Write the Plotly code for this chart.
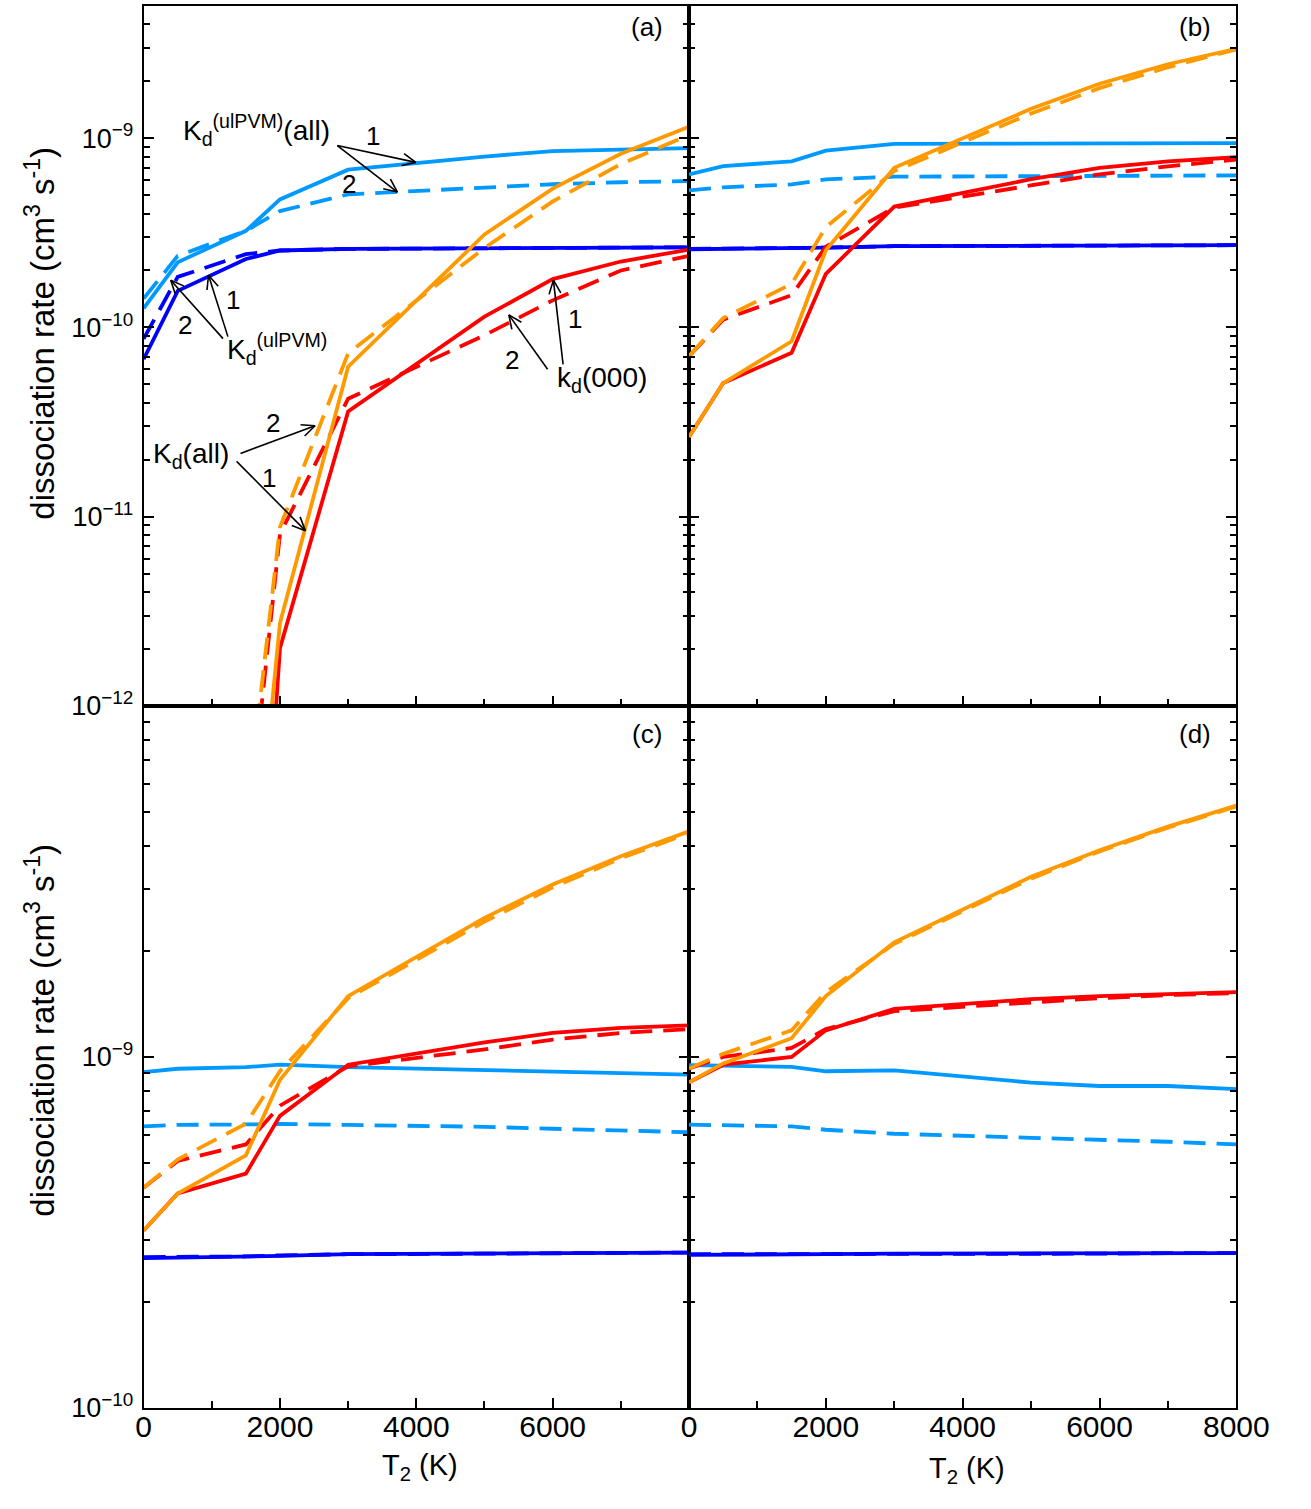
import math
import plotly.graph_objects as go

W, H = 1311, 1509

# ---------------- data ----------------
T = [0, 500, 1500, 2000, 3000, 5000, 6000, 7000, 8000]

# panel (a)
lb_solid_a = [1.26e-10, 2.21e-10, 3.24e-10, 4.75e-10, 6.82e-10, 8.0e-10, 8.55e-10, 8.7e-10, 8.87e-10]
lb_dash_a = [1.42e-10, 2.39e-10, 3.24e-10, 4.12e-10, 5.05e-10, 5.48e-10, 5.71e-10, 5.85e-10, 5.94e-10]
bl_solid_a = [6.8e-11, 1.56e-10, 2.3e-10, 2.55e-10, 2.6e-10, 2.62e-10, 2.63e-10, 2.64e-10, 2.65e-10]
bl_dash_a = [8.7e-11, 1.85e-10, 2.44e-10, 2.55e-10, 2.6e-10, 2.62e-10, 2.63e-10, 2.64e-10, 2.65e-10]
rd_solid_a = [None, None, 4e-15, 2.02e-12, 3.6e-11, 1.14e-10, 1.8e-10, 2.23e-10, 2.58e-10]
rd_dash_a = [None, None, 1.7e-13, 8.1e-12, 4.2e-11, 9.1e-11, 1.39e-10, 2.0e-10, 2.39e-10]
or_solid_a = [None, None, 4e-14, 2.74e-12, 6.2e-11, 3.1e-10, 5.42e-10, 8.27e-10, 1.15e-9]
or_dash_a = [None, None, 2.4e-13, 8.8e-12, 7.3e-11, 2.63e-10, 4.63e-10, 7.3e-10, 1.04e-9]

# panel (b)
lb_solid_b = [6.44e-10, 7.12e-10, 7.55e-10, 8.59e-10, 9.34e-10, 9.4e-10, 9.42e-10, 9.42e-10, 9.42e-10]
lb_dash_b = [5.3e-10, 5.5e-10, 5.7e-10, 6.06e-10, 6.26e-10, 6.32e-10, 6.34e-10, 6.35e-10, 6.36e-10]
bl_solid_b = [2.59e-10, 2.6e-10, 2.62e-10, 2.64e-10, 2.69e-10, 2.7e-10, 2.71e-10, 2.72e-10, 2.72e-10]
bl_dash_b = [2.6e-10, 2.61e-10, 2.62e-10, 2.64e-10, 2.69e-10, 2.7e-10, 2.71e-10, 2.72e-10, 2.72e-10]
rd_solid_b = [2.64e-11, 5.08e-11, 7.35e-11, 1.92e-10, 4.35e-10, 6.07e-10, 6.97e-10, 7.55e-10, 7.93e-10]
rd_dash_b = [7.05e-11, 1.1e-10, 1.48e-10, 2.67e-10, 4.3e-10, 5.6e-10, 6.44e-10, 7.1e-10, 7.7e-10]
or_solid_b = [2.64e-11, 5.08e-11, 8.45e-11, 2.56e-10, 6.97e-10, 1.43e-9, 1.94e-9, 2.46e-9, 2.97e-9]
or_dash_b = [7.05e-11, 1.12e-10, 1.7e-10, 3.39e-10, 6.7e-10, 1.35e-9, 1.84e-9, 2.37e-9, 2.95e-9]

# panel (c)
lb_solid_c = [9.05e-10, 9.25e-10, 9.35e-10, 9.5e-10, 9.35e-10, 9.15e-10, 9.05e-10, 8.98e-10, 8.9e-10]
lb_dash_c = [6.34e-10, 6.4e-10, 6.42e-10, 6.44e-10, 6.4e-10, 6.32e-10, 6.24e-10, 6.17e-10, 6.1e-10]
bl_solid_c = [2.67e-10, 2.68e-10, 2.69e-10, 2.71e-10, 2.74e-10, 2.75e-10, 2.76e-10, 2.76e-10, 2.77e-10]
bl_dash_c = [2.69e-10, 2.69e-10, 2.7e-10, 2.72e-10, 2.74e-10, 2.75e-10, 2.76e-10, 2.76e-10, 2.77e-10]
rd_solid_c = [3.2e-10, 4.08e-10, 4.65e-10, 6.79e-10, 9.5e-10, 1.1e-9, 1.17e-9, 1.21e-9, 1.23e-9]
rd_dash_c = [4.24e-10, 5.05e-10, 5.63e-10, 7.26e-10, 9.4e-10, 1.05e-9, 1.12e-9, 1.17e-9, 1.2e-9]
or_solid_c = [3.2e-10, 4.08e-10, 5.24e-10, 8.6e-10, 1.49e-9, 2.49e-9, 3.1e-9, 3.73e-9, 4.39e-9]
or_dash_c = [4.24e-10, 5.1e-10, 6.45e-10, 9.1e-10, 1.47e-9, 2.43e-9, 3.04e-9, 3.68e-9, 4.34e-9]

# panel (d)
lb_solid_d = [9.47e-10, 9.42e-10, 9.37e-10, 9.1e-10, 9.15e-10, 8.45e-10, 8.26e-10, 8.26e-10, 8.09e-10]
lb_dash_d = [6.41e-10, 6.38e-10, 6.34e-10, 6.2e-10, 6.04e-10, 5.88e-10, 5.82e-10, 5.73e-10, 5.63e-10]
bl_solid_d = [2.73e-10, 2.73e-10, 2.74e-10, 2.74e-10, 2.75e-10, 2.75e-10, 2.75e-10, 2.76e-10, 2.76e-10]
bl_dash_d = [2.74e-10, 2.74e-10, 2.74e-10, 2.75e-10, 2.75e-10, 2.75e-10, 2.75e-10, 2.76e-10, 2.76e-10]
rd_solid_d = [8.46e-10, 9.5e-10, 1.0e-9, 1.19e-9, 1.37e-9, 1.46e-9, 1.49e-9, 1.51e-9, 1.53e-9]
rd_dash_d = [9.27e-10, 1.0e-9, 1.06e-9, 1.2e-9, 1.35e-9, 1.43e-9, 1.47e-9, 1.5e-9, 1.52e-9]
or_solid_d = [8.46e-10, 9.58e-10, 1.13e-9, 1.49e-9, 2.12e-9, 3.26e-9, 3.88e-9, 4.53e-9, 5.2e-9]
or_dash_d = [9.27e-10, 1.02e-9, 1.19e-9, 1.53e-9, 2.1e-9, 3.22e-9, 3.85e-9, 4.5e-9, 5.17e-9]

panel_labels = ["(a)", "(b)", "(c)", "(d)"]
x_major = [0, 2000, 4000, 6000, 8000]
x_minor = [1000, 3000, 5000, 7000]

# ---------------- styles ----------------
C_LB = "#0099ff"
C_BL = "#0000ff"
C_RD = "#ff0000"
C_OR = "#ff9900"
LW = 3.8
DASH = "22px,11px"
FONT = "Liberation Sans, Arial, Helvetica, sans-serif"

panels = [
    ("x", "y", [lb_dash_a, lb_solid_a, bl_dash_a, bl_solid_a, rd_dash_a, rd_solid_a, or_dash_a, or_solid_a]),
    ("x2", "y2", [lb_dash_b, lb_solid_b, bl_dash_b, bl_solid_b, rd_dash_b, rd_solid_b, or_dash_b, or_solid_b]),
    ("x3", "y3", [lb_dash_c, lb_solid_c, bl_dash_c, bl_solid_c, rd_dash_c, rd_solid_c, or_dash_c, or_solid_c]),
    ("x4", "y4", [lb_dash_d, lb_solid_d, bl_dash_d, bl_solid_d, rd_dash_d, rd_solid_d, or_dash_d, or_solid_d]),
]
styles = [(C_LB, DASH), (C_LB, "solid"), (C_BL, DASH), (C_BL, "solid"),
          (C_RD, DASH), (C_RD, "solid"), (C_OR, DASH), (C_OR, "solid")]

fig = go.Figure()
for xa, ya, series in panels:
    for vals, (col, dash) in zip(series, styles):
        fig.add_trace(go.Scatter(x=T, y=vals, xaxis=xa, yaxis=ya, mode="lines",
                                 line=dict(color=col, width=LW, dash=dash),
                                 connectgaps=False, showlegend=False, hoverinfo="skip"))

# ---------------- axes ----------------
def px(x):
    return x / W

def py(y):
    return 1 - y / H

XL = [px(140), px(703)]
XR = [px(703), px(1268)]
YT = [py(713), py(6)]
YB = [py(1422), py(713)]

def sup(k):
    return "10<sup>\u2212%d</sup>" % (-k)

top_major = [10.0 ** k for k in range(-12, -8)]
top_minor = [m * 10.0 ** k for k in range(-12, -8) for m in range(2, 10) if m * 10.0 ** k <= 5.01e-9]
bot_major = [1e-10, 1e-9]
bot_minor = [m * 10.0 ** k for k in range(-10, -8) for m in range(2, 10)]

def xaxis(domain, anchor, labels, text):
    return dict(domain=domain, anchor=anchor, range=[0, 8000], showgrid=False, zeroline=False,
                showline=True, linecolor="black", linewidth=2, mirror=True,
                ticks="inside", ticklen=10, tickwidth=1.6, tickcolor="black",
                tickvals=x_major, ticktext=text, showticklabels=labels,
                ticklabelstandoff=-9,
                tickfont=dict(family=FONT, size=30, color="black"),
                minor=dict(tickvals=x_minor, ticks="inside", ticklen=7, tickwidth=1.6, tickcolor="black"))

def yaxis(domain, anchor, rng, major, minor, labels):
    return dict(domain=domain, anchor=anchor, type="log", range=rng, showgrid=False, zeroline=False,
                showline=True, linecolor="black", linewidth=2, mirror="ticks",
                ticks="inside", ticklen=10, tickwidth=1.6, tickcolor="black",
                tickvals=major, ticktext=[sup(round(math.log10(v))) for v in major],
                showticklabels=labels, ticklabelstandoff=3,
                tickfont=dict(family=FONT, size=27, color="black"),
                minor=dict(tickvals=minor, ticks="inside", ticklen=6, tickwidth=1.6, tickcolor="black"))

top_rng = [-12, math.log10(5e-9)]
bot_rng = [-10, -8]
fig.update_layout(
    xaxis=xaxis(XL, "y", False, ["0", "2000", "4000", "6000", ""]),
    xaxis2=xaxis(XR, "y2", False, ["0", "2000", "4000", "6000", "8000"]),
    xaxis3=xaxis(XL, "y3", True, ["0", "2000", "4000", "6000", ""]),
    xaxis4=xaxis(XR, "y4", True, ["0", "2000", "4000", "6000", "8000"]),
    yaxis=yaxis(YT, "x", top_rng, top_major, top_minor, True),
    yaxis2=yaxis(YT, "x2", top_rng, top_major, top_minor, False),
    yaxis3=yaxis(YB, "x3", bot_rng, bot_major, bot_minor, True),
    yaxis4=yaxis(YB, "x4", bot_rng, bot_major, bot_minor, False),
)

# ---------------- text ----------------
ann = []

def text(x, y, s, size=26, xanchor="center", yanchor="middle", angle=0):
    ann.append(dict(x=px(x), y=py(y), xref="paper", yref="paper", text=s, showarrow=False,
                    xanchor=xanchor, yanchor=yanchor, textangle=angle,
                    font=dict(family=FONT, size=size, color="black")))

ytitle = "dissociation rate (cm<sup>3</sup> s<sup>-1</sup>)"
text(33, 336, ytitle, size=33, angle=-90)
text(33, 1040, ytitle, size=33, angle=-90)
text(425, 1482, "T<sub>2</sub> (K)", size=29)
text(990, 1485, "T<sub>2</sub> (K)", size=29)

for lab, (x, y) in zip(panel_labels, [(660, 27), (1225, 27), (660, 741), (1225, 741)]):
    text(x, y, lab, size=26)

text(179, 131, "K<sub>d</sub><sup>(ulPVM)</sup>(all)", size=28, xanchor="left")
text(377, 137, "1")
text(352, 186, "2")
text(224, 352, "K<sub>d</sub><sup>(ulPVM)</sup>", size=28, xanchor="left")
text(232, 303, "1")
text(183, 328, "2")
text(148, 460, "K<sub>d</sub>(all)", size=28, xanchor="left")
text(274, 427, "2")
text(269, 483, "1")
text(565, 383, "k<sub>d</sub>(000)", size=28, xanchor="left")
text(585, 322, "1")
text(520, 364, "2")

fig.update_layout(annotations=ann)

# arrows (tail -> head) drawn as line shapes with open heads
arrows = [((340, 147), (421, 164)), ((340, 147), (402, 194)),
          ((227, 340), (207, 278)), ((222, 342), (168, 283)),
          ((240, 458), (317, 430)), ((236, 466), (307, 536)),
          ((557, 373), (517, 318)), ((573, 368), (563, 283))]
shapes = []
L, ANG = 15, math.radians(24)
for (x0, y0), (x1, y1) in arrows:
    line = dict(color="black", width=1.6)
    shapes.append(dict(type="line", xref="paper", yref="paper", x0=px(x0), y0=py(y0),
                       x1=px(x1), y1=py(y1), line=line))
    a = math.atan2(y0 - y1, x0 - x1)
    for s in (ANG, -ANG):
        bx = x1 + L * math.cos(a + s)
        by = y1 + L * math.sin(a + s)
        shapes.append(dict(type="line", xref="paper", yref="paper", x0=px(x1), y0=py(y1),
                           x1=px(bx), y1=py(by), line=line))
fig.update_layout(shapes=shapes)

fig.update_layout(width=W, height=H, margin=dict(l=0, r=0, t=0, b=0),
                  paper_bgcolor="white", plot_bgcolor="white",
                  font=dict(family=FONT, color="black"))

fig.write_html("out.html")
